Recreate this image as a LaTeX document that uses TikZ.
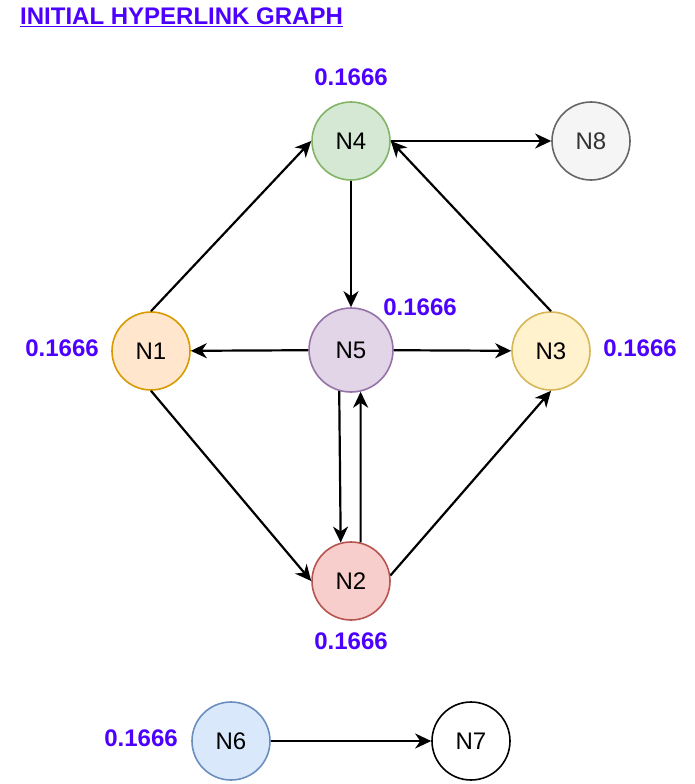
\documentclass[tikz,border=0pt]{standalone}
\usepackage{fontspec}
\setmainfont{Liberation Sans}
\usepackage{tikz}
\usetikzlibrary{arrows.meta,positioning}
\usepackage{xcolor}
\definecolor{hlPurple}{HTML}{4C00FF}
\definecolor{hlGreenF}{HTML}{D5E8D4}
\definecolor{hlGreenD}{HTML}{82B366}
\definecolor{hlGreyF}{HTML}{F5F5F5}
\definecolor{hlGreyD}{HTML}{666666}
\definecolor{hlGreyT}{HTML}{333333}
\definecolor{hlOrangeF}{HTML}{FFE6CC}
\definecolor{hlOrangeD}{HTML}{D79B00}
\definecolor{hlVioletF}{HTML}{E1D5E7}
\definecolor{hlVioletD}{HTML}{9673A6}
\definecolor{hlYellowF}{HTML}{FFF2CC}
\definecolor{hlYellowD}{HTML}{D6B656}
\definecolor{hlRedF}{HTML}{F8CECC}
\definecolor{hlRedD}{HTML}{B85450}
\definecolor{hlBlueF}{HTML}{DAE8FC}
\definecolor{hlBlueD}{HTML}{6C8EBF}
\tikzset{
  link/.style={-{Stealth[length=16pt,width=15pt,inset=5pt]}, line width=2.2pt, draw=black},
  page/.style={circle, draw, line width=1.6pt, minimum size=78pt, inner sep=0pt, font=\fontsize{24}{27}\selectfont},
  rank/.style={text=hlPurple, font=\fontsize{24}{27}\selectfont\bfseries},
  heading/.style={text=hlPurple, font=\fontsize{24}{27}\selectfont\bfseries, anchor=west}
}
\begin{document}
\begin{tikzpicture}[x=1pt,y=-1pt]
  \useasboundingbox (0,0) rectangle (694,784);
  \node[heading, inner sep=0pt] (title) at (20,17) {\underline{INITIAL HYPERLINK GRAPH}};
  % pages
  \node[page, fill=hlGreenF, draw=hlGreenD] (n4) at (351,141) {N4};
  \node[page, fill=hlGreyF, draw=hlGreyD, text=hlGreyT] (n8) at (591,141) {N8};
  \node[page, fill=hlOrangeF, draw=hlOrangeD] (n1) at (151,351) {N1};
  \node[page, fill=hlVioletF, draw=hlVioletD, minimum size=84pt] (n5) at (351,350) {N5};
  \node[page, fill=hlYellowF, draw=hlYellowD] (n3) at (551,351) {N3};
  \node[page, fill=hlRedF, draw=hlRedD] (n2) at (351,581) {N2};
  \node[page, fill=hlBlueF, draw=hlBlueD] (n6) at (231,741) {N6};
  \node[page, fill=white, draw=black] (n7) at (471,741) {N7};
  % ranks
  \node[rank] (r4) at (351,77) {0.1666};
  \node[rank] (r5) at (420,307) {0.1666};
  \node[rank] (r1) at (62,348) {0.1666};
  \node[rank] (r3) at (640,348) {0.1666};
  \node[rank] (r2) at (351,641) {0.1666};
  \node[rank] (r6) at (141,738) {0.1666};
  % links
  \draw[link] (n1.north) -- (n4.west);
  \draw[link] (n3.north) -- (n4.east);
  \foreach \a/\b in {n4/n8,n5/n1,n5/n3,n6/n7}{\draw[link] (\a) -- (\b);}
  \draw[link] (n4.south) -- (n5.north);
  \draw[link] (n5.254) -- (n2.105);
  \draw[link] (n2.76) -- (n5.283);
  \draw[link] (n1.south) -- (n2.west);
  \draw[link] (n2.8) -- (n3.south);
\end{tikzpicture}
\end{document}
